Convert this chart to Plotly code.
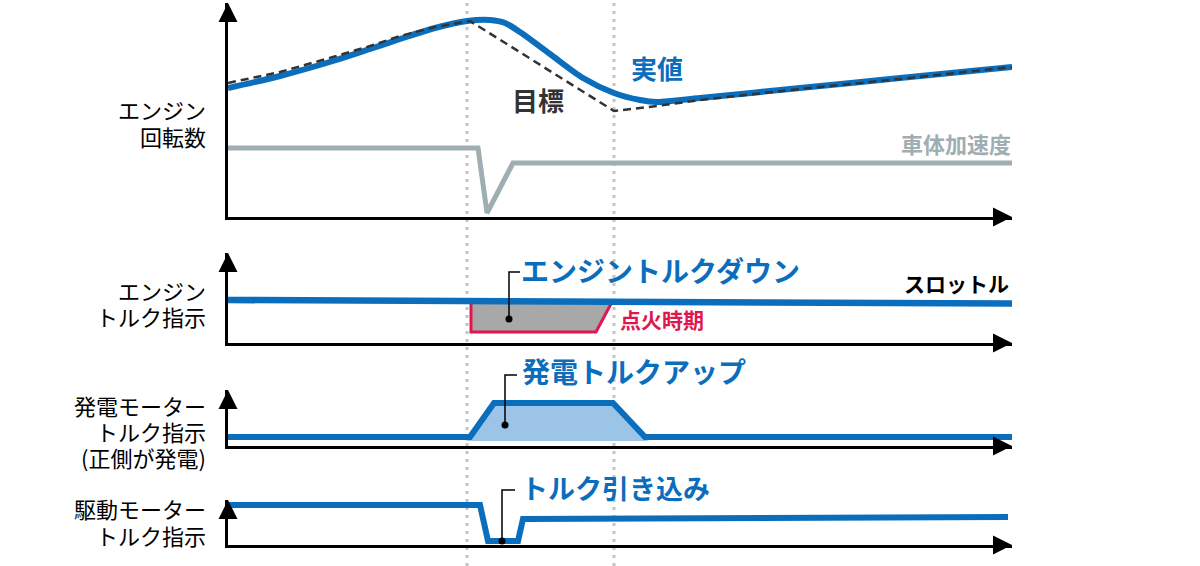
import plotly.graph_objects as go

W, H = 1200, 566
X_LEFT, X_RIGHT = 228, 1012
T_MAX = X_RIGHT - X_LEFT  # time units (1 unit = 1 px)

FONT = "Noto Sans CJK JP"
BLUE = "#0a6ebd"
LIGHT_BLUE = "#9cc4e6"
GRAY_LINE = "#9eaeb3"
DARK = "#333333"
CRIMSON = "#e0174f"
FILL_GRAY = "#a8a8a8"

# ---------------- data (time, value above each panel's baseline) -------------
# Panel 1: engine speed
rpm_t = [0, 52, 105, 142, 172, 207, 239, 262, 277, 292, 322, 355, 386, 412, 429, 472, 572, 672, 784]
rpm_actual = [129, 141, 156, 168, 178, 189, 196, 197, 194, 185, 163, 139, 124, 117, 115, 119, 129, 139, 150]
rpm_target_t = [0, 52, 105, 142, 172, 207, 242, 386, 429, 472, 572, 672, 784]
rpm_target = [134, 145, 160, 171, 181, 190, 196, 106, 111, 117, 128, 138, 150]
accel_t = [0, 250, 259, 285, 784]
accel = [69, 69, 4, 54, 54]

# Panel 2: engine torque command
throttle_t = [0, 784]
throttle = [43, 39.5]
ign_t = [243, 243, 368, 384]
ign = [41, 11, 11, 41]

# Panel 3: generator torque command
gen_t = [0, 242, 266, 385, 417, 784]
gen = [9, 9, 43, 43, 9, 9]
gen_fill_t = [238, 266, 385, 420]
gen_fill = [5, 43, 43, 5]

# Panel 4: drive motor torque command
drive_t = [0, 252, 260, 290, 295, 780]
drive = [40, 40, 4, 4, 26, 28]

# event timing (dotted guides)
event_t = [239, 386]

# left-hand axis labels, one entry per line
panel_labels = [
    ["エンジン", "回転数"],
    ["エンジン", "トルク指示"],
    ["発電モーター", "トルク指示", "(正側が発電)"],
    ["駆動モーター", "トルク指示"],
]

# panel geometry: (baseline px, arrow tip px)
panels = [(217, 3), (343, 253), (446, 390), (545, 500)]
label_centers = [[111.5, 138], [292, 318], [407, 433, 459], [511, 537]]  # px from top


def px(t):
    return (X_LEFT + t) / W


def py(i, v):
    return (H - panels[i - 1][0] + v) / H


def ax(i):
    return ("x" if i == 1 else "x%d" % i), ("y" if i == 1 else "y%d" % i)


fig = go.Figure()
layout = dict(
    width=W, height=H, margin=dict(l=0, r=0, t=0, b=0),
    paper_bgcolor="white", plot_bgcolor="rgba(0,0,0,0)",
    showlegend=False, font=dict(family=FONT, color="black"),
)

for i, (base, tip) in enumerate(panels, start=1):
    sfx = "" if i == 1 else str(i)
    layout["xaxis" + sfx] = dict(
        domain=[X_LEFT / W, X_RIGHT / W], range=[0, T_MAX], anchor="y" + sfx,
        showticklabels=False, showgrid=False, zeroline=False, ticks="",
        showline=True, linewidth=3, linecolor="black", fixedrange=True,
    )
    layout["yaxis" + sfx] = dict(
        domain=[(H - base) / H, (H - tip) / H], range=[0, base - tip], anchor="x" + sfx,
        showticklabels=False, showgrid=False, zeroline=False, ticks="",
        showline=True, linewidth=3, linecolor="black", fixedrange=True,
    )

# Panel 1 traces
xa, ya = ax(1)
fig.add_trace(go.Scatter(x=accel_t, y=accel, mode="lines", xaxis=xa, yaxis=ya,
                         line=dict(color=GRAY_LINE, width=5)))
fig.add_trace(go.Scatter(x=rpm_t, y=rpm_actual, mode="lines", xaxis=xa, yaxis=ya,
                         line=dict(color=BLUE, width=6, shape="spline", smoothing=0.8)))
fig.add_trace(go.Scatter(x=rpm_target_t, y=rpm_target, mode="lines", xaxis=xa, yaxis=ya,
                         line=dict(color=DARK, width=2.5, dash="8px,5px")))

# Panel 2 traces
xa, ya = ax(2)
fig.add_trace(go.Scatter(x=ign_t, y=ign, mode="lines", fill="toself", fillcolor=FILL_GRAY,
                         xaxis=xa, yaxis=ya, line=dict(color=CRIMSON, width=3)))
fig.add_trace(go.Scatter(x=throttle_t, y=throttle, mode="lines", xaxis=xa, yaxis=ya,
                         line=dict(color=BLUE, width=6.5)))

# Panel 3 traces
xa, ya = ax(3)
fig.add_trace(go.Scatter(x=gen_fill_t, y=gen_fill, mode="lines", fill="toself", fillcolor=LIGHT_BLUE,
                         xaxis=xa, yaxis=ya, line=dict(width=0)))
fig.add_trace(go.Scatter(x=gen_t, y=gen, mode="lines", xaxis=xa, yaxis=ya,
                         line=dict(color=BLUE, width=6)))

# Panel 4 traces
xa, ya = ax(4)
fig.add_trace(go.Scatter(x=drive_t, y=drive, mode="lines", xaxis=xa, yaxis=ya,
                         line=dict(color=BLUE, width=6)))

# axis arrow heads
for i, (base, tip) in enumerate(panels, start=1):
    xa, ya = ax(i)
    fig.add_trace(go.Scatter(
        x=[0, T_MAX], y=[base - tip, 0], mode="markers", xaxis=xa, yaxis=ya,
        cliponaxis=False, hoverinfo="skip",
        marker=dict(symbol=["arrow-up", "arrow-right"], size=19, color="black", line=dict(width=0)),
    ))

# dotted event guides
shapes = []
for t in event_t:
    shapes.append(dict(type="line", xref="x", yref="paper", x0=t, x1=t, y0=0, y1=1,
                       layer="below", line=dict(color="#c4c4c4", width=3, dash="3px,5px")))

anns = []
TEXT_LIFT = 2.5  # optical correction for CJK glyph box


def text(i, t, v, s, size, color, xanchor="center", bold=True, align="left", pad=1):
    anns.append(dict(x=px(t), y=py(i, v + TEXT_LIFT), xref="paper", yref="paper",
                     text=("<b>%s</b>" % s) if bold else s, borderpad=pad,
                     showarrow=False, xanchor=xanchor, yanchor="middle", align=align,
                     font=dict(family=FONT, size=size, color=color)))


def leader(i, t_dot, v_dot, v_corner, t_end):
    shapes.append(dict(type="path", xref="paper", yref="paper",
                       path="M %f,%f V %f H %f" % (px(t_dot), py(i, v_dot), py(i, v_corner), px(t_end)),
                       line=dict(color="black", width=1.5)))
    xa, ya = ax(i)
    fig.add_trace(go.Scatter(x=[t_dot], y=[v_dot], mode="markers", xaxis=xa, yaxis=ya,
                             cliponaxis=False, hoverinfo="skip",
                             marker=dict(size=7, color="black", line=dict(width=0))))


# left labels (one annotation per line, right-aligned next to the axis)
for i, (lines, centers) in enumerate(zip(panel_labels, label_centers), start=1):
    base = panels[i - 1][0]
    for s, c in zip(lines, centers):
        text(i, -21, base - c, s, 22, "black", "right", bold=False, align="right", pad=0)

# in-panel labels
text(1, 429, 147, "実値", 26, BLUE)
text(1, 310, 115, "目標", 26, DARK)
text(1, T_MAX + 1, 72, "車体加速度", 22, GRAY_LINE, "right")
text(2, 291, 71, "エンジントルクダウン", 28, BLUE, "left")
text(2, 783, 58, "スロットル", 21, "black", "right")
text(2, 390, 22, "点火時期", 21, CRIMSON, "left")
text(3, 292, 73, "発電トルクアップ", 28, BLUE, "left")
text(4, 291, 55, "トルク引き込み", 27, BLUE, "left")

leader(2, 281, 24, 71, 292)
leader(3, 277, 21, 71, 289)
leader(4, 274, 4, 55, 287)

layout["shapes"] = shapes
layout["annotations"] = anns
fig.update_layout(**layout)
fig.write_html("out.html", config={"displayModeBar": False},
               post_script="document.body.style.margin='0px';")
